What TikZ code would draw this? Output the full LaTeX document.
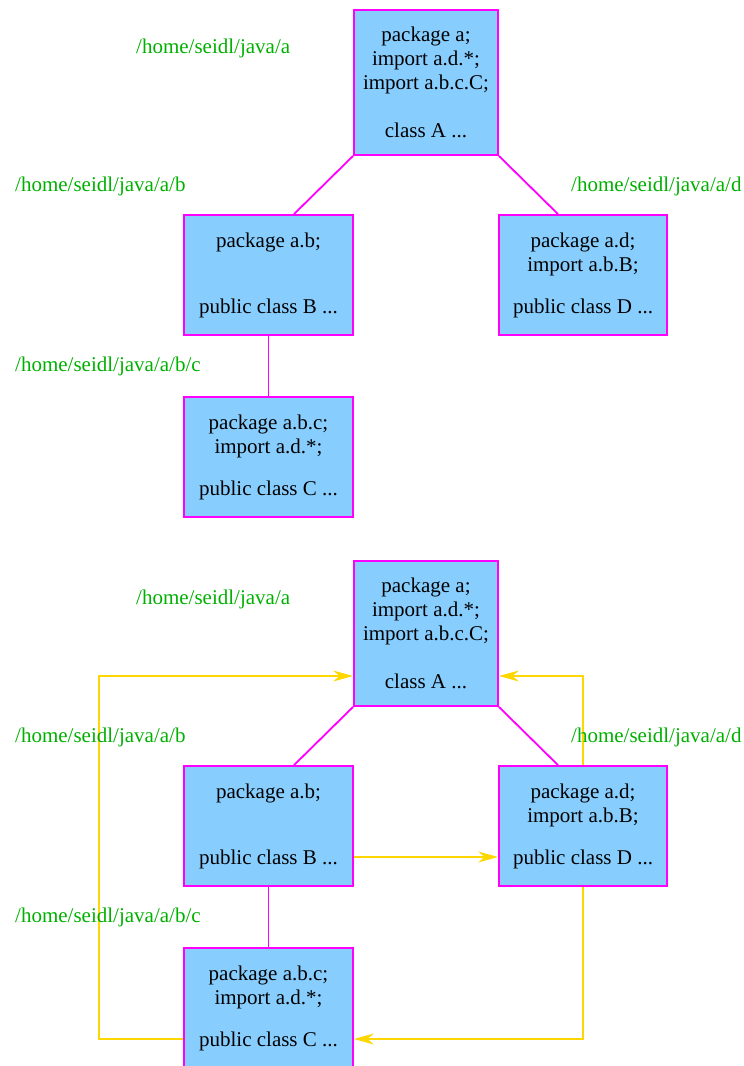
\documentclass[tikz,border=0pt]{standalone}
\usepackage{fontspec}
\setmainfont{Liberation Serif}
\usetikzlibrary{arrows.meta,positioning}
\definecolor{ltblue}{RGB}{135,206,255}
\definecolor{dirgreen}{RGB}{0,176,0}
\definecolor{depgold}{RGB}{255,215,0}
\definecolor{boxmagenta}{RGB}{255,0,255}

\begin{document}
\begin{tikzpicture}[x=1pt,y=-1pt,
    pkg/.style={draw=boxmagenta,line width=1.8pt,fill=ltblue,align=center,inner sep=0pt,font=\fontsize{21}{24}\selectfont},
    dir/.style={text=dirgreen,anchor=west,inner sep=0pt,font=\fontsize{21}{24}\selectfont},
    tree/.style={boxmagenta,line width=1.8pt},
    dep/.style={draw=depgold,line width=1.1pt,-{Stealth[length=20pt,width=11pt,fill=depgold]}}]
    \useasboundingbox (0,0) rectangle (744,1066);
    % the same package tree twice
    \foreach \s/\dy in {1/0,2/551} {
      \node[pkg,minimum width=144,minimum height=145] (A\s) at (426,82.5+\dy)
        {package a;\\ import a.d.*;\\ import a.b.c.C;\\[24pt] class A ...};
      \node[pkg,minimum width=169,minimum height=120] (B\s) at (268.5,275+\dy)
        {package a.b;\\[42pt] public class B ...};
      \node[pkg,minimum width=168,minimum height=120] (D\s) at (583,275+\dy)
        {package a.d;\\ import a.b.B;\\[18pt] public class D ...};
      \node[pkg,minimum width=169,minimum height=120] (C\s) at (268.5,457+\dy)
        {package a.b.c;\\ import a.d.*;\\[18pt] public class C ...};
      \draw[tree] (A\s.south west) -- ([xshift=25.5]B\s.north);
      \draw[tree] (A\s.south east) -- ([xshift=-25]D\s.north);
      \draw[tree] (B\s.south) -- (C\s.north);
    }
    % dependencies
    \coordinate (lb) at (99,1039);
    \coordinate (lt) at (99,676);
    \coordinate (rb) at (583,1039);
    \coordinate (mid) at (426,857);
    \draw[dep] (C2.west |- lb) -- (lb) -- (lt) -- (A2.west |- lt);
    \draw[dep] (D2.north) -- (D2.north |- lt) -- (A2.east |- lt);
    \draw[dep] (D2.south) -- (rb) -- (C2.east |- rb);
    \draw[dep] (B2.east |- mid) -- (D2.west |- mid);
    % directories
    \foreach \s/\dy in {1/0,2/551} {
      \node[dir] (pa\s) at (136,48+\dy) {/home/seidl/java/a};
      \node[dir] (pb\s) at (15,186+\dy) {/home/seidl/java/a/b};
      \node[dir] (pd\s) at (571,186+\dy) {/home/seidl/java/a/d};
      \node[dir] (pc\s) at (15,366+\dy) {/home/seidl/java/a/b/c};
    }
\end{tikzpicture}
\end{document}
